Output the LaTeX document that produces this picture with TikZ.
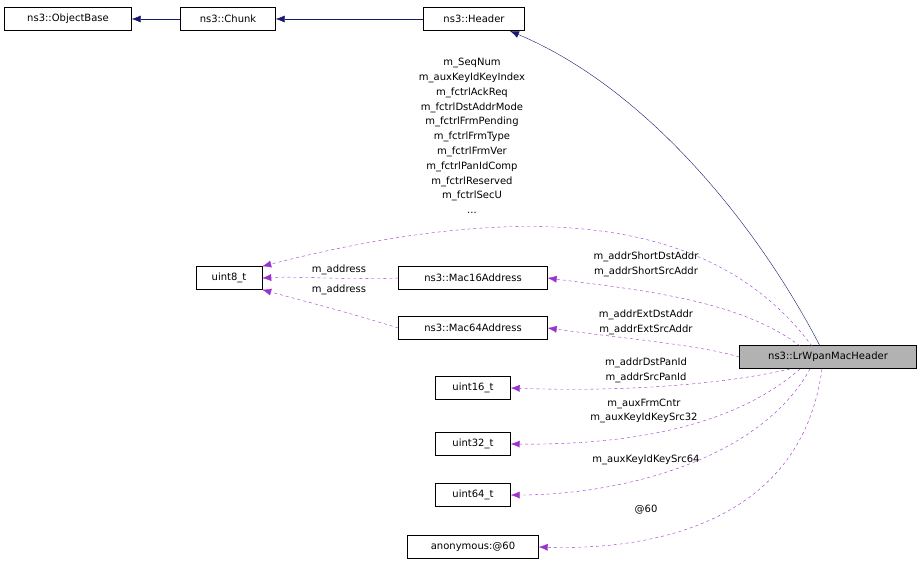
\documentclass[tikz,border=0pt]{standalone}
\usepackage{fontspec}
\setmainfont{DejaVu Sans}
\begin{document}
\begin{tikzpicture}[x=1pt,y=-1pt,
  box/.style={draw,inner sep=0pt,minimum height=23pt,font=\fontsize{10}{12}\selectfont,anchor=center},
  inh/.style={draw=navy,-{Latex[length=9pt,width=7pt]}},
  use/.style={draw=dpurple,dashed,-{Latex[length=9pt,width=7pt]}},
  lab/.style={font=\fontsize{10}{14.8}\selectfont,align=center,inner sep=0pt}]
\definecolor{navy}{RGB}{25,25,112}
\definecolor{dpurple}{RGB}{154,50,205}
\useasboundingbox (0,0) rectangle (923,565);
\usetikzlibrary{arrows.meta}
\node[box,minimum width=127pt] (ob) at (68,19) {ns3::ObjectBase};
\node[box,minimum width=95pt] (ch) at (228,19) {ns3::Chunk};
\node[box,minimum width=101pt] (hd) at (474,19) {ns3::Header};
\node[box,minimum width=66pt] (u8) at (229,278) {uint8\_t};
\node[box,minimum width=149pt] (m16) at (473,278) {ns3::Mac16Address};
\node[box,minimum width=149pt] (m64) at (473,328) {ns3::Mac64Address};
\node[box,minimum width=177pt,fill=gray!60] (lr) at (828,357) {ns3::LrWpanMacHeader};
\node[box,minimum width=75pt] (u16) at (473,388) {uint16\_t};
\node[box,minimum width=75pt] (u32) at (473,444) {uint32\_t};
\node[box,minimum width=75pt] (u64) at (473,495) {uint64\_t};
\node[box,minimum width=131pt] (an) at (473,547) {anonymous:@60};
\draw[inh] (ch) -- (ob);
\draw[inh] (hd) -- (ch);
\draw[inh] (820,346) .. controls (760,230) and (650,90) .. (510,31);
\draw[use] (812,346) .. controls (740,250) and (600,180) .. (u8.north east);
\draw[use] (800,346) .. controls (740,300) and (640,290) .. (m16.east);
\draw[use] (lr.west) .. controls (700,345) and (620,338) .. (m64.east);
\draw[use] (790,369) .. controls (720,385) and (620,392) .. (u16.east);
\draw[use] (800,369) .. controls (730,430) and (620,445) .. (u32.east);
\draw[use] (810,369) .. controls (760,460) and (620,495) .. (u64.east);
\draw[use] (822,369) .. controls (800,530) and (640,550) .. (an.east);
\draw[use] (m16.west) .. controls (340,280) and (300,276) .. (u8.east);
\draw[use] (m64.west) .. controls (340,310) and (300,300) .. (u8.south east);
\node[lab] at (472,136) {m\_SeqNum\\m\_auxKeyIdKeyIndex\\m\_fctrlAckReq\\m\_fctrlDstAddrMode\\m\_fctrlFrmPending\\m\_fctrlFrmType\\m\_fctrlFrmVer\\m\_fctrlPanIdComp\\m\_fctrlReserved\\m\_fctrlSecU\\...};
\node[lab] at (646,264) {m\_addrShortDstAddr\\m\_addrShortSrcAddr};
\node[lab] at (646,322) {m\_addrExtDstAddr\\m\_addrExtSrcAddr};
\node[lab] at (646,370) {m\_addrDstPanId\\m\_addrSrcPanId};
\node[lab] at (644,411) {m\_auxFrmCntr\\m\_auxKeyIdKeySrc32};
\node[lab] at (646,460) {m\_auxKeyIdKeySrc64};
\node[lab] at (646,510) {@60};
\node[lab] at (339,270) {m\_address};
\node[lab] at (339,290) {m\_address};
\end{tikzpicture}
\end{document}
